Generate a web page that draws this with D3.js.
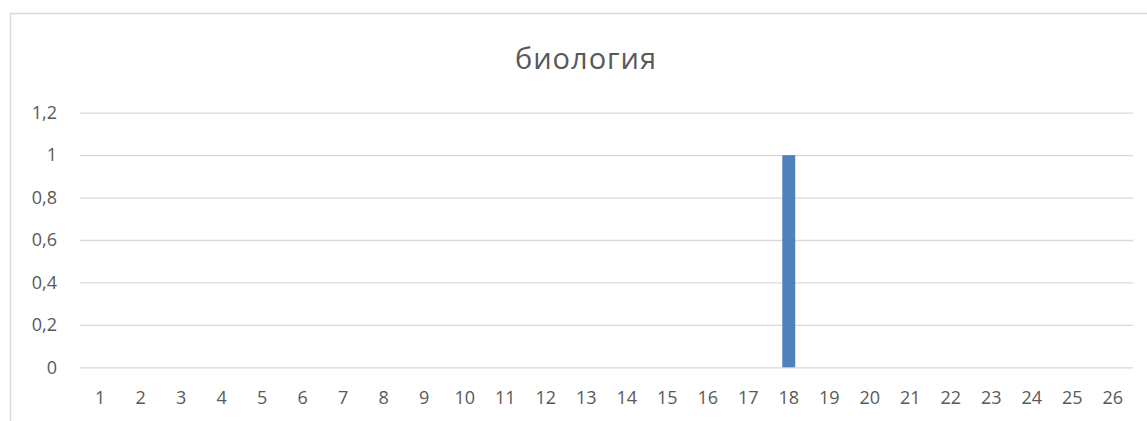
<!DOCTYPE html>
<html lang="ru">
<head>
  <meta charset="UTF-8">
  <title>биология</title>
  <script src="https://d3js.org/d3.v7.min.js"></script>
  <style>
    body { margin: 0; padding: 0; background: #fff; }
    svg { display: block; }
    text { font-family: 'Open Sans', sans-serif; fill: #595959; }
  </style>
</head>
<body>
  <svg id="chart" width="1147" height="421"></svg>
  <script>
    var title = 'биология';
    var categories = d3.range(1, 27).map(String);
    var values = [0, 0, 0, 0, 0, 0, 0, 0, 0, 0, 0, 0, 0, 0, 0, 0, 0, 1, 0, 0, 0, 0, 0, 0, 0, 0];
    var yTicks = [0, 0.2, 0.4, 0.6, 0.8, 1, 1.2];

    var svg = d3.select('#chart');
    var plotLeft = 80, plotRight = 1133, plotTop = 112.7, plotBottom = 367.3;

    // chart area border (only top and left are visible in the crop)
    svg.append('path')
      .attr('d', 'M10.5,421 L10.5,13.5 L1147,13.5')
      .attr('fill', 'none')
      .attr('stroke', '#d9d9d9')
      .attr('stroke-width', 1.5);

    svg.append('text')
      .attr('x', 586)
      .attr('y', 69)
      .attr('text-anchor', 'middle')
      .style('font-size', '29px')
      .style('letter-spacing', '1px')
      .text(title);

    var x = d3.scaleBand().domain(categories).range([plotLeft, plotRight]);
    var y = d3.scaleLinear().domain([0, 1.2]).range([plotBottom, plotTop]);

    var fmt = function(d) { return String(+d.toFixed(1)).replace('.', ','); };

    var yAxis = svg.append('g')
      .attr('transform', 'translate(' + plotLeft + ',0)')
      .call(d3.axisLeft(y).tickValues(yTicks).tickSize(-(plotRight - plotLeft)).tickPadding(23).tickFormat(fmt));
    yAxis.select('.domain').remove();
    yAxis.selectAll('line').attr('stroke', '#d9d9d9').attr('stroke-width', 1.3);
    yAxis.selectAll('text').style('font-size', '18px').attr('fill', '#595959');

    var xAxis = svg.append('g')
      .attr('transform', 'translate(0,' + plotBottom + ')')
      .call(d3.axisBottom(x).tickSize(0).tickPadding(24));
    xAxis.select('.domain').remove();
    xAxis.selectAll('text').style('font-size', '18px').attr('fill', '#595959');

    var barW = x.bandwidth() * 0.32;
    svg.append('g').selectAll('rect')
      .data(values).enter().append('rect')
      .attr('x', function(d, i) { return x(categories[i]) + (x.bandwidth() - barW) / 2; })
      .attr('y', function(d) { return y(d); })
      .attr('width', barW)
      .attr('height', function(d) { return plotBottom - y(d); })
      .attr('fill', '#4f81bd');
  </script>
</body>
</html>
